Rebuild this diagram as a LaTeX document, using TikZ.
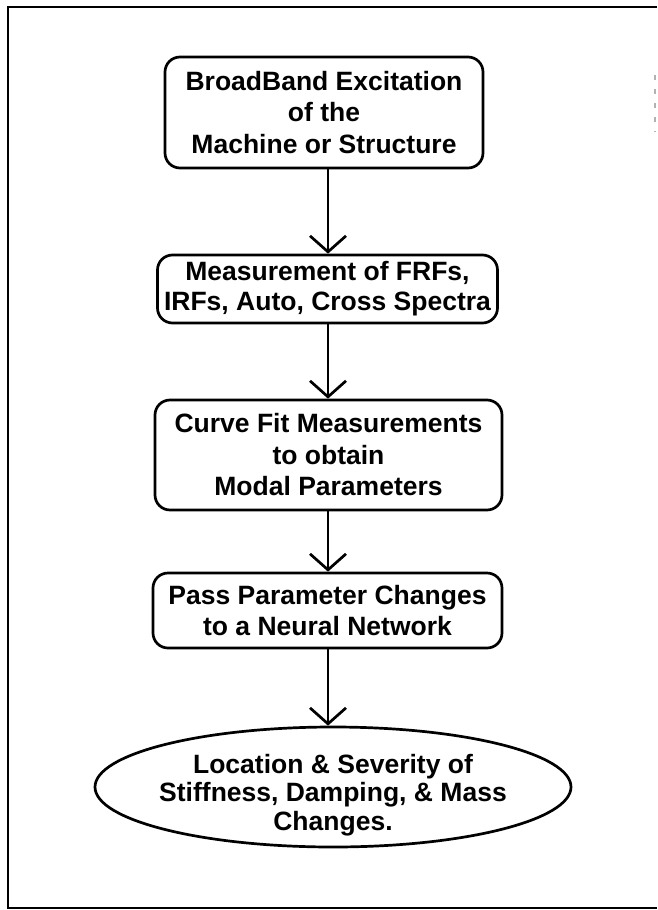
\documentclass[tikz,border=0pt]{standalone}
\usepackage{fontspec}
\setmainfont{Liberation Sans}
\usetikzlibrary{arrows.meta,shapes.geometric}
\begin{document}
\begin{tikzpicture}[x=1pt,y=-1pt,
  txt/.style={align=center, font=\fontsize{26.5}{31.5}\selectfont\bfseries, inner sep=0pt},
  stepbox/.style={txt, draw, line width=2.7pt, rounded corners=15pt},
  endoval/.style={draw, ellipse, line width=2.7pt, inner sep=0pt},
  flow/.style={line width=2.7pt, -{Straight Barb[length=16pt,width=36pt,line width=2.7pt]}},
  frame/.style={line width=2.7pt},
  faint/.style={gray!60, line width=1.2pt, dash pattern=on 5pt off 9pt}]
\useasboundingbox (0,0) rectangle (657,910);
\coordinate (fr1) at (657,7);
\coordinate (fr2) at (8,7);
\coordinate (fr3) at (8,908);
\coordinate (fr4) at (657,908);
\coordinate (fm1) at (655,75);
\coordinate (fm2) at (655,132);
\draw[frame] (fr1) -- (fr2) -- (fr3) -- (fr4);
\draw[faint] (fm1) -- (fm2);
\node[stepbox, minimum width=318pt, minimum height=111pt] (b1) at (324,112.5)
  {BroadBand Excitation\\of the\\Machine or Structure};
\node[stepbox, font=\fontsize{26.5}{30}\selectfont\bfseries, minimum width=340pt, minimum height=68pt] (b2) at (327.5,289)
  {Measurement of FRFs,\\IRFs, Auto, Cross Spectra};
\node[stepbox, minimum width=347pt, minimum height=110pt] (b3) at (328.5,455)
  {Curve Fit Measurements\\to obtain\\Modal Parameters};
\node[stepbox, minimum width=349pt, minimum height=75pt] (b4) at (327.5,610.5)
  {Pass Parameter Changes\\to a Neural Network};
\node[endoval, minimum width=476pt, minimum height=120pt] (b5) at (333,787) {};
\node[txt, font=\fontsize{26.5}{28.5}\selectfont\bfseries] (t5) at ([yshift=-8pt]b5.center)
  {Location \& Severity of\\Stiffness, Damping, \& Mass\\Changes.};
\coordinate (ax) at (328,0);
\draw[flow] (b1.south -| ax) -- (b2.north -| ax);
\draw[flow] (b2.south -| ax) -- (b3.north -| ax);
\draw[flow] (b3.south -| ax) -- (b4.north -| ax);
\draw[flow] (b4.south -| ax) -- (b5.north -| ax);
\end{tikzpicture}
\end{document}
